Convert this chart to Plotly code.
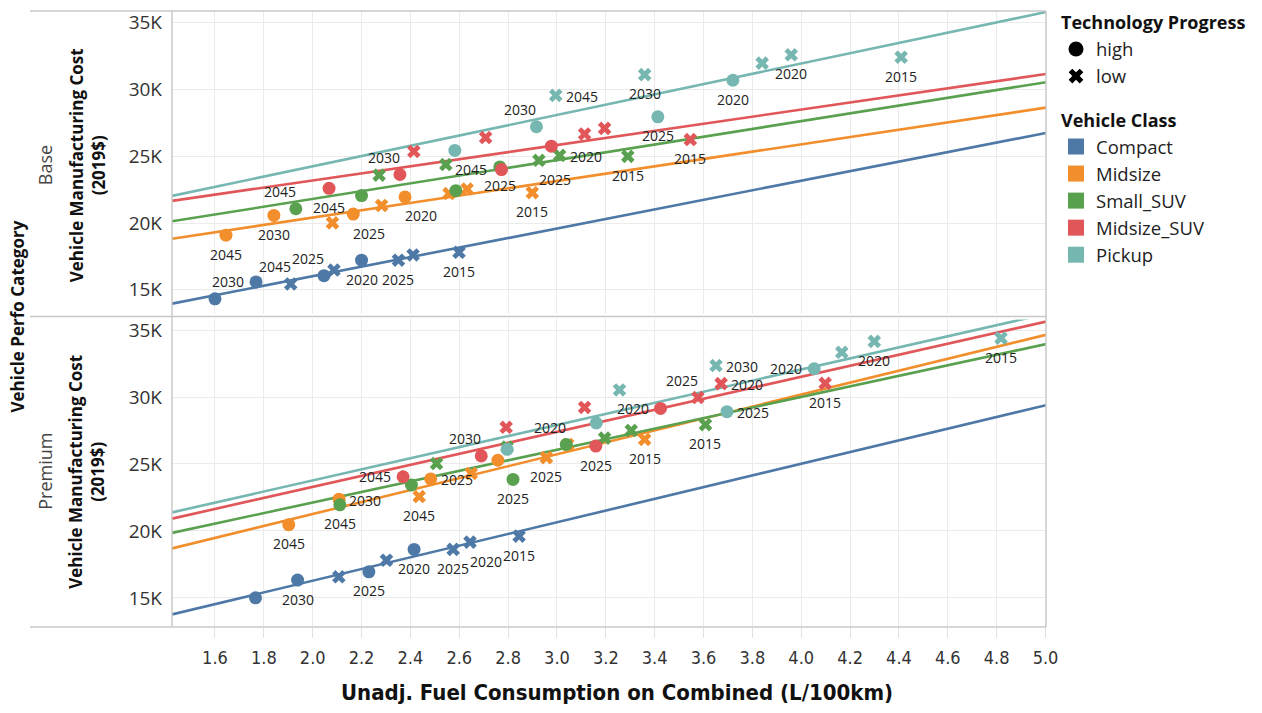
import numpy as np
import plotly.graph_objects as go
from plotly.subplots import make_subplots

# ---------------- data ----------------
classes = ["Compact", "Midsize", "Small_SUV", "Midsize_SUV", "Pickup"]
tech_levels = ["high", "low"]
panels = ["Base", "Premium"]
x_ticks = [1.6, 1.8, 2.0, 2.2, 2.4, 2.6, 2.8, 3.0, 3.2, 3.4, 3.6, 3.8, 4.0, 4.2, 4.4, 4.6, 4.8, 5.0]
y_ticks = [15000, 20000, 25000, 30000, 35000]
y_tick_labels = ["15K", "20K", "25K", "30K", "35K"]

# Base panel
base_high_x = [[1.600, 1.768, 2.046, 2.200], [1.645, 1.841, 2.166, 2.378], [1.931, 2.200, 2.586, 2.766],
               [2.067, 2.357, 2.773, 2.977], [2.582, 2.916, 3.413, 3.720]]
base_high_cost = [[14330, 15590, 16060, 17220], [19090, 20570, 20670, 21950], [21065, 22050, 22420, 24195],
                  [22595, 23630, 24000, 25750], [25430, 27200, 27940, 30680]]
base_high_label = [["", "2030", "2025", "2020"], ["2045", "2030", "2025", "2020"], ["2045", "", "", "2025"],
                   ["", "2030", "", ""], ["2045", "2030", "2025", "2020"]]
base_low_x = [[1.910, 2.087, 2.351, 2.411, 2.599], [2.081, 2.282, 2.558, 2.632, 2.899],
              [2.272, 2.545, 2.926, 3.011, 3.290], [2.414, 2.708, 3.113, 3.195, 3.546],
              [2.995, 3.359, 3.840, 3.959, 4.409]]
base_low_cost = [[15440, 16480, 17220, 17610, 17810], [20010, 21310, 22200, 22540, 22270],
                 [23580, 24370, 24690, 25060, 24985], [25355, 26390, 26660, 27080, 26240],
                 [29550, 31100, 31960, 32580, 32405]]
base_low_label = [["2045", "", "2025", "", "2015"], ["2045", "", "", "", "2015"], ["", "", "2025", "2020", "2015"],
                  ["", "", "", "", "2015"], ["2045", "2030", "", "2020", "2015"]]

# Premium panel
prem_high_x = [[1.766, 1.938, 2.230, 2.415], [1.902, 2.108, 2.483, 2.758], [2.111, 2.404, 2.820, 3.038],
               [2.370, 2.690, 3.159, 3.424], [2.796, 3.161, 3.696, 4.053]]
prem_high_cost = [[15000, 16330, 16945, 18620], [20470, 22370, 23885, 25280], [21950, 23430, 23845, 26460],
                  [24045, 25600, 26340, 29150], [26095, 28060, 28905, 32110]]
prem_high_label = [["", "2030", "2025", "2020"], ["2045", "2030", "2025", ""], ["2045", "", "2025", "2020"],
                   ["2045", "2030", "2025", "2020"], ["", "", "2025", "2020"]]
prem_low_x = [[2.107, 2.302, 2.575, 2.644, 2.845], [2.436, 2.649, 2.957, 3.044, 3.359],
              [2.507, 2.796, 3.195, 3.304, 3.608], [2.792, 3.113, 3.577, 3.672, 4.098],
              [3.256, 3.651, 4.166, 4.299, 4.818]]
prem_low_cost = [[16575, 17810, 18620, 19165, 19610], [22567, 24290, 25475, 26460, 26830],
                 [25030, 26265, 26930, 27500, 27940], [27740, 29220, 29960, 31000, 31020],
                 [30530, 32350, 33340, 34155, 34400]]
prem_low_label = [["", "", "2025", "2020", "2015"], ["2045", "", "2025", "", "2015"], ["", "", "", "", "2015"],
                  ["", "", "2025", "2020", "2015"], ["", "2030", "", "2020", "2015"]]

# Trend lines (linear: cost = intercept + slope * x), per vehicle class
base_trend_slope = [3570, 2741, 2909, 2652, 3845]
base_trend_intercept = [8880, 14921, 15983, 17879, 16551]
prem_trend_slope = [4367, 4457, 3942, 4114, 4142]
prem_trend_intercept = [7546, 12351, 14236, 15059, 15485]

# ---------------- styles ----------------
colors = ["#4e79a7", "#f28e2b", "#59a14f", "#e15759", "#76b7b2"]
symbols = {"high": "circle", "low": "x"}
# label placement codes -> pixel shift (x, y-up)
OFFSETS = {"B": (0, -19), "TL": (-16, 17), "L": (-28, 0), "R": (26, -1), "BR": (16, -19), "T": (-3, 15)}
base_high_pos = [["B", "L", "TL", "B"], ["B", "B", "BR", "BR"], ["TL", "B", "B", "B"], ["B", "TL", "B", "B"],
                 ["BR", "TL", "B", "B"]]
base_low_pos = [["TL", "B", "B", "B", "B"], ["T", "B", "B", "B", "B"], ["B", "B", "BR", "R", "B"],
                ["B", "B", "B", "B", "B"], ["R", "B", "B", "B", "B"]]
prem_high_pos = [["B", "B", "B", "B"], ["B", "R", "R", "B"], ["B", "B", "B", "TL"], ["L", "TL", "B", "L"],
                 ["B", "B", "R", "L"]]
prem_low_pos = [["B", "B", "B", "BR", "B"], ["B", "B", "B", "B", "B"], ["B", "B", "B", "B", "B"],
                ["B", "B", "TL", "R", "B"], ["B", "R", "B", "B", "B"]]

X_RANGE = [1.424, 5.002]
FONT = "Open Sans, Noto Sans, sans-serif"
NARROW = "Liberation Sans Narrow, DejaVu Sans Condensed, Open Sans, sans-serif"
GRID = "#ebebeb"
BORDER = "#c8c8c8"

fig = make_subplots(rows=2, cols=1, shared_xaxes=True, vertical_spacing=0.01)

panel_data = [
    (1, base_high_x, base_high_cost, base_high_label, base_high_pos,
     base_low_x, base_low_cost, base_low_label, base_low_pos, base_trend_slope, base_trend_intercept),
    (2, prem_high_x, prem_high_cost, prem_high_label, prem_high_pos,
     prem_low_x, prem_low_cost, prem_low_label, prem_low_pos, prem_trend_slope, prem_trend_intercept),
]

label_annotations = []
xl = np.array(X_RANGE)
for (row, hx, hc, hl, hp, lx, lc, ll, lp, ts, ti) in panel_data:
    yref = "y" if row == 1 else "y2"
    xref = "x" if row == 1 else "x2"
    for i, cls in enumerate(classes):
        fig.add_trace(go.Scatter(x=xl, y=ti[i] + ts[i] * xl, mode="lines",
                                 line=dict(color=colors[i], width=2.6),
                                 showlegend=False, hoverinfo="skip"), row=row, col=1)
    for i, cls in enumerate(classes):
        for tech, xs, cs, labs, poss in (("high", hx, hc, hl, hp), ("low", lx, lc, ll, lp)):
            fig.add_trace(go.Scatter(
                x=xs[i], y=cs[i], mode="markers",
                marker=dict(symbol=symbols[tech], size=13 if tech == "high" else 12,
                            color=colors[i], line=dict(width=0)),
                showlegend=False, name=f"{cls} {tech}"), row=row, col=1)
            for xv, cv, lab, pos in zip(xs[i], cs[i], labs[i], poss[i]):
                if lab:
                    dx, dy = OFFSETS[pos]
                    label_annotations.append(dict(
                        x=xv, y=cv, xref=xref, yref=yref, text=lab, showarrow=False,
                        xshift=dx, yshift=dy, xanchor="center", yanchor="middle",
                        font=dict(family=FONT, size=14, color="#222")))

# legend entries
fig.add_trace(go.Scatter(x=[None], y=[None], mode="markers", name="high",
                         marker=dict(symbol="circle", size=15, color="black"),
                         legendgroup="tech", legendgrouptitle_text="Technology Progress"), row=1, col=1)
fig.add_trace(go.Scatter(x=[None], y=[None], mode="markers", name="low",
                         marker=dict(symbol="x", size=13, color="black"),
                         legendgroup="tech"), row=1, col=1)
for i, cls in enumerate(classes):
    fig.add_trace(go.Scatter(x=[None], y=[None], mode="markers", name=cls,
                             marker=dict(symbol="square", size=20, color=colors[i]),
                             legendgroup="cls",
                             legendgrouptitle_text="Vehicle Class" if i == 0 else None), row=1, col=1)

# ---------------- layout ----------------
W, H = 1262, 713
ml, mr, mt, mb = 172, 216, 4, 86
pw, ph = W - ml - mr, H - mt - mb


def px_x(px):
    return (px - ml) / pw


def px_y(py):
    return (H - mb - py) / ph


fig.update_layout(
    width=W, height=H, autosize=False,
    margin=dict(l=ml, r=mr, t=mt, b=mb),
    paper_bgcolor="white", plot_bgcolor="white",
    font=dict(family=FONT, size=17, color="#333"),
    legend=dict(x=px_x(1056), y=px_y(-3), xanchor="left", yanchor="top",
                font=dict(family=FONT, size=18.5, color="#222"),
                grouptitlefont=dict(family=FONT, size=18, color="#111", weight="bold"),
                tracegroupgap=17, itemsizing="trace", traceorder="grouped"),
    showlegend=True,
)

yaxis_common = dict(tickvals=y_ticks, ticktext=y_tick_labels, showgrid=True, gridcolor=GRID,
                    gridwidth=1, zeroline=False, showline=False, ticks="",
                    tickfont=dict(family=FONT, size=19, color="#333"), ticklabelstandoff=9)
fig.update_layout(
    yaxis=dict(domain=[px_y(310), px_y(4)], range=[13225, 35860], **yaxis_common),
    yaxis2=dict(domain=[px_y(627), px_y(316)], range=[12825, 35790], **yaxis_common),
    xaxis=dict(range=X_RANGE, tickvals=x_ticks, showgrid=True, gridcolor=GRID, zeroline=False,
               showticklabels=False, ticks=""),
    xaxis2=dict(range=X_RANGE, tickvals=x_ticks, ticktext=[f"{v:.1f}" for v in x_ticks],
                showgrid=True, gridcolor=GRID, zeroline=False, showline=False,
                ticks="outside", ticklen=10, tickcolor="#e0e0e0",
                tickfont=dict(family=NARROW, size=18, color="#333"), ticklabelstandoff=4),
)

# frame lines
shapes = []
for py in (4, 313, 627):
    shapes.append(dict(type="line", xref="paper", yref="paper", x0=px_x(30), x1=1, y0=px_y(py), y1=px_y(py),
                       line=dict(color=BORDER, width=1.5)))
for pxx in (172, 1046):
    shapes.append(dict(type="line", xref="paper", yref="paper", x0=px_x(pxx), x1=px_x(pxx), y0=0, y1=1,
                       line=dict(color=BORDER, width=1.5)))
fig.update_layout(shapes=shapes)

ann = [
    dict(text="<b>Vehicle Perfo Category</b>", x=px_x(18), y=px_y(313), textangle=-90,
         font=dict(family=FONT, size=17, color="#111")),
    dict(text="Base", x=px_x(45), y=px_y(160), textangle=-90, font=dict(family=FONT, size=18, color="#444")),
    dict(text="Premium", x=px_x(45), y=px_y(470), textangle=-90, font=dict(family=FONT, size=18, color="#444")),
    dict(text="<b>Vehicle Manufacturing Cost<br>(2019$)</b>", x=px_x(87), y=px_y(160), textangle=-90,
         font=dict(family=FONT, size=17, color="#111")),
    dict(text="<b>Vehicle Manufacturing Cost<br>(2019$)</b>", x=px_x(87), y=px_y(470), textangle=-90,
         font=dict(family=FONT, size=17, color="#111")),
    dict(text="<b>Unadj. Fuel Consumption on Combined (L/100km)</b>", x=px_x(617), y=px_y(693),
         font=dict(family=NARROW, size=22, color="#111")),
]
for a in ann:
    a.update(xref="paper", yref="paper", showarrow=False, xanchor="center", yanchor="middle")
fig.update_layout(annotations=ann + label_annotations)

fig.write_html("out.html", config={"displayModeBar": False},
               post_script="document.body.style.margin='0';")
